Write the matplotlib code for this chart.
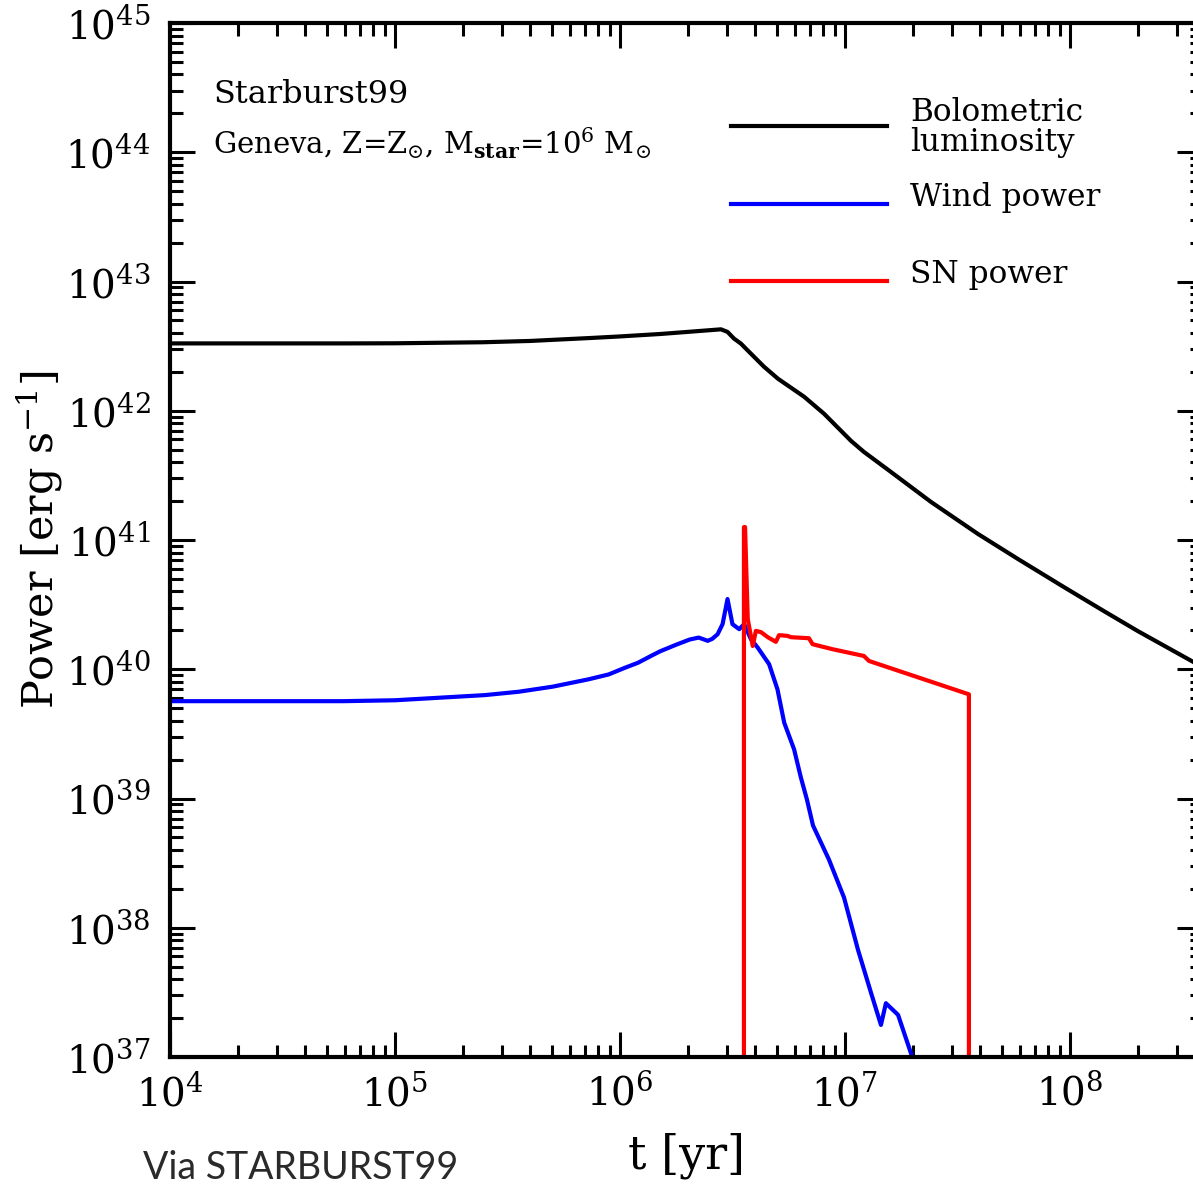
import numpy as np
import matplotlib
matplotlib.use("Agg")
import matplotlib.pyplot as plt
from matplotlib.ticker import LogLocator, FixedLocator, NullFormatter

# log10 of time [yr] and power [erg/s]
log_t_bol = [4.0, 4.77, 5.0, 5.39, 5.6, 5.87, 6.0, 6.18, 6.3, 6.449, 6.478, 6.507, 6.538,
             6.56, 6.64, 6.702, 6.818, 6.907, 7.027, 7.084, 7.204, 7.382, 7.591, 7.769,
             7.973, 8.151, 8.302, 8.551, 8.59]
log_p_bol = [42.521, 42.521, 42.522, 42.53, 42.54, 42.563, 42.575, 42.594, 42.61, 42.63, 42.61,
             42.558, 42.519, 42.48, 42.341, 42.248, 42.109, 41.977, 41.767, 41.682, 41.527,
             41.295, 41.047, 40.853, 40.636, 40.45, 40.295, 40.054, 40.02]

log_t_wind = [4.0, 4.77, 5.0, 5.2, 5.4, 5.55, 5.7, 5.86, 5.95, 6.02, 6.08, 6.138, 6.18, 6.25,
              6.31, 6.35, 6.39, 6.41, 6.434, 6.456, 6.478, 6.5, 6.53, 6.552, 6.582, 6.612,
              6.663, 6.70, 6.73, 6.774, 6.804, 6.831, 6.858, 6.929, 6.996, 7.058, 7.116,
              7.16, 7.182, 7.236, 7.293, 7.316]
log_p_wind = [39.753, 39.753, 39.76, 39.78, 39.80, 39.826, 39.865, 39.922, 39.96, 40.01, 40.05,
              40.103, 40.14, 40.19, 40.23, 40.245, 40.22, 40.235, 40.271, 40.349, 40.543,
              40.349, 40.31, 40.349, 40.233, 40.168, 40.039, 39.845, 39.587, 39.38, 39.163,
              38.992, 38.791, 38.527, 38.233, 37.829, 37.496, 37.248, 37.416, 37.326,
              37.031, 36.9]

log_t_sn = [6.551, 6.551, 6.556, 6.568, 6.59, 6.604, 6.627, 6.657, 6.693, 6.707, 6.745,
            6.76, 6.84, 6.856, 6.945, 7.084, 7.107, 7.551, 7.551]
log_p_sn = [36.0, 41.10, 41.10, 40.388, 40.18, 40.297, 40.287, 40.248, 40.212, 40.264, 40.258,
            40.248, 40.24, 40.194, 40.155, 40.103, 40.064, 39.806, 36.0]

series_labels = ["Bolometric\nluminosity", "Wind power", "SN power"]
series_colors = ["black", "#0000ff", "#ff0000"]

x_decades = [1e4, 1e5, 1e6, 1e7, 1e8]
y_decades = [1e37, 1e38, 1e39, 1e40, 1e41, 1e42, 1e43, 1e44, 1e45]

plt.rcParams["font.family"] = ["DejaVu Serif"]
plt.rcParams["mathtext.fontset"] = "dejavuserif"

fig = plt.figure(figsize=(11.93, 11.87), dpi=100)
ax = fig.add_axes([170 / 1193, 130 / 1187, 1032 / 1193, 1034 / 1187])

lw = 3.0
ax.plot(10 ** np.array(log_t_bol), 10 ** np.array(log_p_bol), color=series_colors[0], lw=lw)
ax.plot(10 ** np.array(log_t_wind), 10 ** np.array(log_p_wind), color=series_colors[1], lw=lw)
ax.plot(10 ** np.array(log_t_sn), 10 ** np.array(log_p_sn), color=series_colors[2], lw=lw)

ax.set_xscale("log")
ax.set_yscale("log")
ax.set_xlim(1e4, 10 ** 8.587)
ax.set_ylim(1e37, 1e45)

ax.xaxis.set_major_locator(FixedLocator(x_decades))
ax.yaxis.set_major_locator(FixedLocator(y_decades))
for axis in (ax.xaxis, ax.yaxis):
    axis.set_minor_locator(LogLocator(base=10, subs=np.arange(2, 10), numticks=200))
    axis.set_minor_formatter(NullFormatter())

ax.tick_params(which="both", direction="in", top=True, right=True, width=2.2)
ax.tick_params(which="major", length=18, labelsize=28)
ax.tick_params(axis="x", which="major", pad=12)
ax.tick_params(axis="y", which="major", pad=14)
ax.tick_params(which="minor", length=9)
for sp in ax.spines.values():
    sp.set_linewidth(3)

ax.set_xlabel("t [yr]", fontsize=33, labelpad=14)
ax.set_ylabel(r"Power [erg s$^{-1}$]", fontsize=31, labelpad=0)

# annotations
ax.text(0.042, 0.923, "Starburst99", transform=ax.transAxes, fontsize=23, va="baseline")
ax.text(0.042, 0.873, r"Geneva, Z=Z$_{\odot}$, M$_{\mathbf{star}}$=10$^{6}$ M$_{\odot}$",
        transform=ax.transAxes, fontsize=21, va="baseline")

# legend drawn by hand
leg_y = [0.9004, 0.825, 0.7505]
txt_y = [0.899, 0.8317, 0.7563]
for lab, col, ly, ty in zip(series_labels, series_colors, leg_y, txt_y):
    ax.plot([0.5436, 0.6948], [ly, ly], color=col, lw=lw, transform=ax.transAxes, clip_on=False)
    ax.text(0.717, ty, lab, transform=ax.transAxes, fontsize=22.5, va="center",
            linespacing=0.95)

fig.text(143 / 1193, 1 - 1179 / 1187, "Via STARBURST99", fontsize=27,
         family="Lato", va="baseline", color="#2a2a2a")

fig.savefig("out.png", dpi=100)
